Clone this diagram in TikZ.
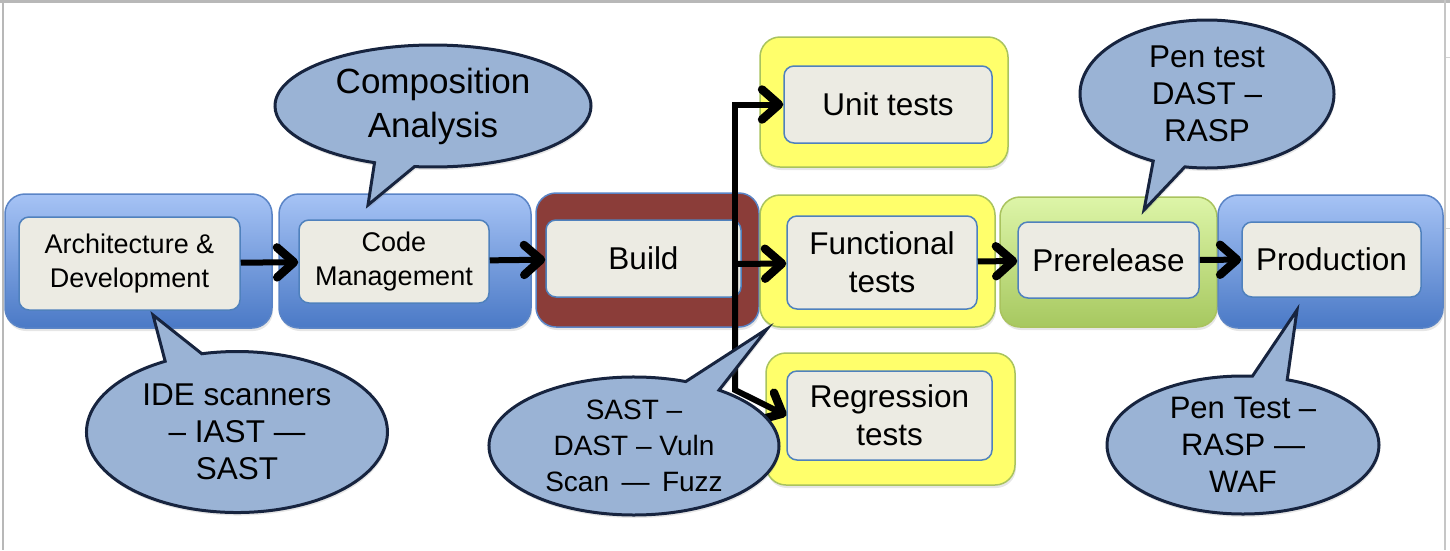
\documentclass[tikz,border=0pt]{standalone}
\usepackage{fontspec}
\setmainfont{Liberation Sans}
\usetikzlibrary{shapes.callouts,arrows.meta,shadows}

\definecolor{cardfill}{HTML}{ECEBE3}
\definecolor{cardedge}{HTML}{4F81BD}
\definecolor{stagetop}{HTML}{A6C3F5}
\definecolor{stagebot}{HTML}{4A79C6}
\definecolor{stageedge}{HTML}{5A84C6}
\definecolor{buildred}{HTML}{8B3D39}
\definecolor{testyellow}{HTML}{FFFF6B}
\definecolor{testedge}{HTML}{A9C35E}
\definecolor{pretop}{HTML}{DDF5A8}
\definecolor{prebot}{HTML}{A7C860}
\definecolor{bubblefill}{HTML}{9AB3D5}
\definecolor{bubbleedge}{HTML}{17243F}
\definecolor{framegray}{HTML}{B8B8B8}

\begin{document}
\begin{tikzpicture}[x=1pt,y=-1pt]
% Define styles
\tikzstyle{shade}=[drop shadow={opacity=0.2,shadow xshift=1pt,shadow yshift=-3pt}]
\tikzstyle{stage}=[rectangle, rounded corners=20pt, draw=stageedge, line width=1.5pt, top color=stagetop, bottom color=stagebot, inner sep=0pt, shade]
\tikzstyle{buildstage}=[stage, fill=buildred, top color=buildred, bottom color=buildred]
\tikzstyle{teststage}=[stage, draw=testedge, top color=testyellow, bottom color=testyellow]
\tikzstyle{prestage}=[stage, draw=testedge, top color=pretop, bottom color=prebot]
\tikzstyle{card}=[rectangle, rounded corners=10pt, draw=cardedge, line width=1.5pt, fill=cardfill, align=center, inner sep=0pt]
\tikzstyle{smalltext}=[font=\fontsize{27}{34}\selectfont]
\tikzstyle{bigtext}=[font=\fontsize{31.5}{38}\selectfont]
\tikzstyle{flow}=[line width=6pt, -{Straight Barb[length=17pt,width=30pt,line width=0pt 1.4,round]}]
\tikzstyle{bubble}=[ellipse callout, draw=bubbleedge, line width=3pt, fill=bubblefill, align=center, inner sep=0pt, shade]

\useasboundingbox (0,0) rectangle (1450,550);

% Window frame
\fill[framegray] (0,0) rectangle (1450,3);
\fill[framegray] (1.5,0) rectangle (4,550);
\draw[framegray!80, line width=1.5pt] (1445,0) -- (1445,550);
\draw[framegray!60, line width=1pt] (1446,57) -- (1450,57);
\draw[framegray!60, line width=1pt] (1446,228) -- (1450,228);

% Stage backgrounds
\node[stage, minimum width=267pt, minimum height=134pt] (archbg) at (138.5,261) {};
\node[stage, minimum width=252pt, minimum height=134pt] (codebg) at (405,261) {};
\node[buildstage, minimum width=223pt, minimum height=134pt] (buildbg) at (647.5,260) {};
\node[teststage, minimum width=248pt, minimum height=130pt] (unitbg) at (884,102) {};
\node[teststage, minimum width=235pt, minimum height=132pt] (funcbg) at (877.5,261) {};
\node[teststage, minimum width=249pt, minimum height=132pt] (regbg) at (890.5,419) {};
\node[prestage, minimum width=217pt, minimum height=130pt] (prebg) at (1108.5,262) {};
\node[stage, minimum width=225pt, minimum height=133pt] (prodbg) at (1330.5,261.5) {};

% Stage cards
\node[card, smalltext, minimum width=221pt, minimum height=93pt] (arch) at (129.5,263.5) {Architecture \&\\Development};
\node[card, smalltext, minimum width=190pt, minimum height=83pt] (code) at (394,261.5) {Code\\Management};
\node[card, bigtext, minimum width=195pt, minimum height=77pt] (build) at (643.5,258.5) {Build};
\node[card, bigtext, minimum width=208pt, minimum height=77pt] (unit) at (888,104.5) {Unit tests};
\node[card, bigtext, minimum width=190pt, minimum height=93pt] (func) at (882,262.5) {Functional\\tests};
\node[card, bigtext, minimum width=205pt, minimum height=89pt] (reg) at (889.5,415.5) {Regression\\tests};
\node[card, bigtext, minimum width=181pt, minimum height=76pt] (pre) at (1108.5,260) {Prerelease};
\node[card, bigtext, minimum width=179pt, minimum height=75pt] (prod) at (1331.5,259.5) {Production};

% Flow arrows
\draw[flow] (arch) -- (code);
\draw[flow] (code) -- (build);
\coordinate (split) at (735,264);
\coordinate (bend) at (735,390);
\draw[flow] (split) |- (unit);
\draw[flow] (split) -- (func);
\draw[flow] (split) -- (bend) -- (reg.west);
\draw[flow] (func) -- (pre);
\draw[flow] (pre) -- (prod);

% Callouts
\coordinate (comptip) at (368,205);
\coordinate (idetip) at (153,315);
\coordinate (sasttip) at (767,329);
\coordinate (pentoptip) at (1144,210);
\coordinate (penbottip) at (1297,310);
\node[bubble, minimum width=316pt, minimum height=122pt, callout absolute pointer={(comptip)}, font=\fontsize{35}{44}\selectfont] (comp) at (433,106) {Composition\\Analysis};
\node[bubble, minimum width=301pt, minimum height=161pt, callout absolute pointer={(idetip)}, font=\fontsize{31.5}{37}\selectfont] (ide) at (237,432) {IDE scanners\\– IAST —\\SAST};
\node[bubble, minimum width=290pt, minimum height=138pt, callout absolute pointer={(sasttip)}, font=\fontsize{28}{36}\selectfont] (sast) at (634,446) {SAST –\\DAST – Vuln\\Scan \,—\, Fuzz};
\node[bubble, minimum width=254pt, minimum height=148pt, callout absolute pointer={(pentoptip)}, font=\fontsize{31.5}{37}\selectfont] (pentop) at (1207,94) {Pen test\\DAST –\\RASP};
\node[bubble, minimum width=272pt, minimum height=138pt, callout absolute pointer={(penbottip)}, font=\fontsize{31}{37}\selectfont] (penbot) at (1243,445) {Pen Test –\\RASP —\\WAF};

\end{tikzpicture}
\end{document}
